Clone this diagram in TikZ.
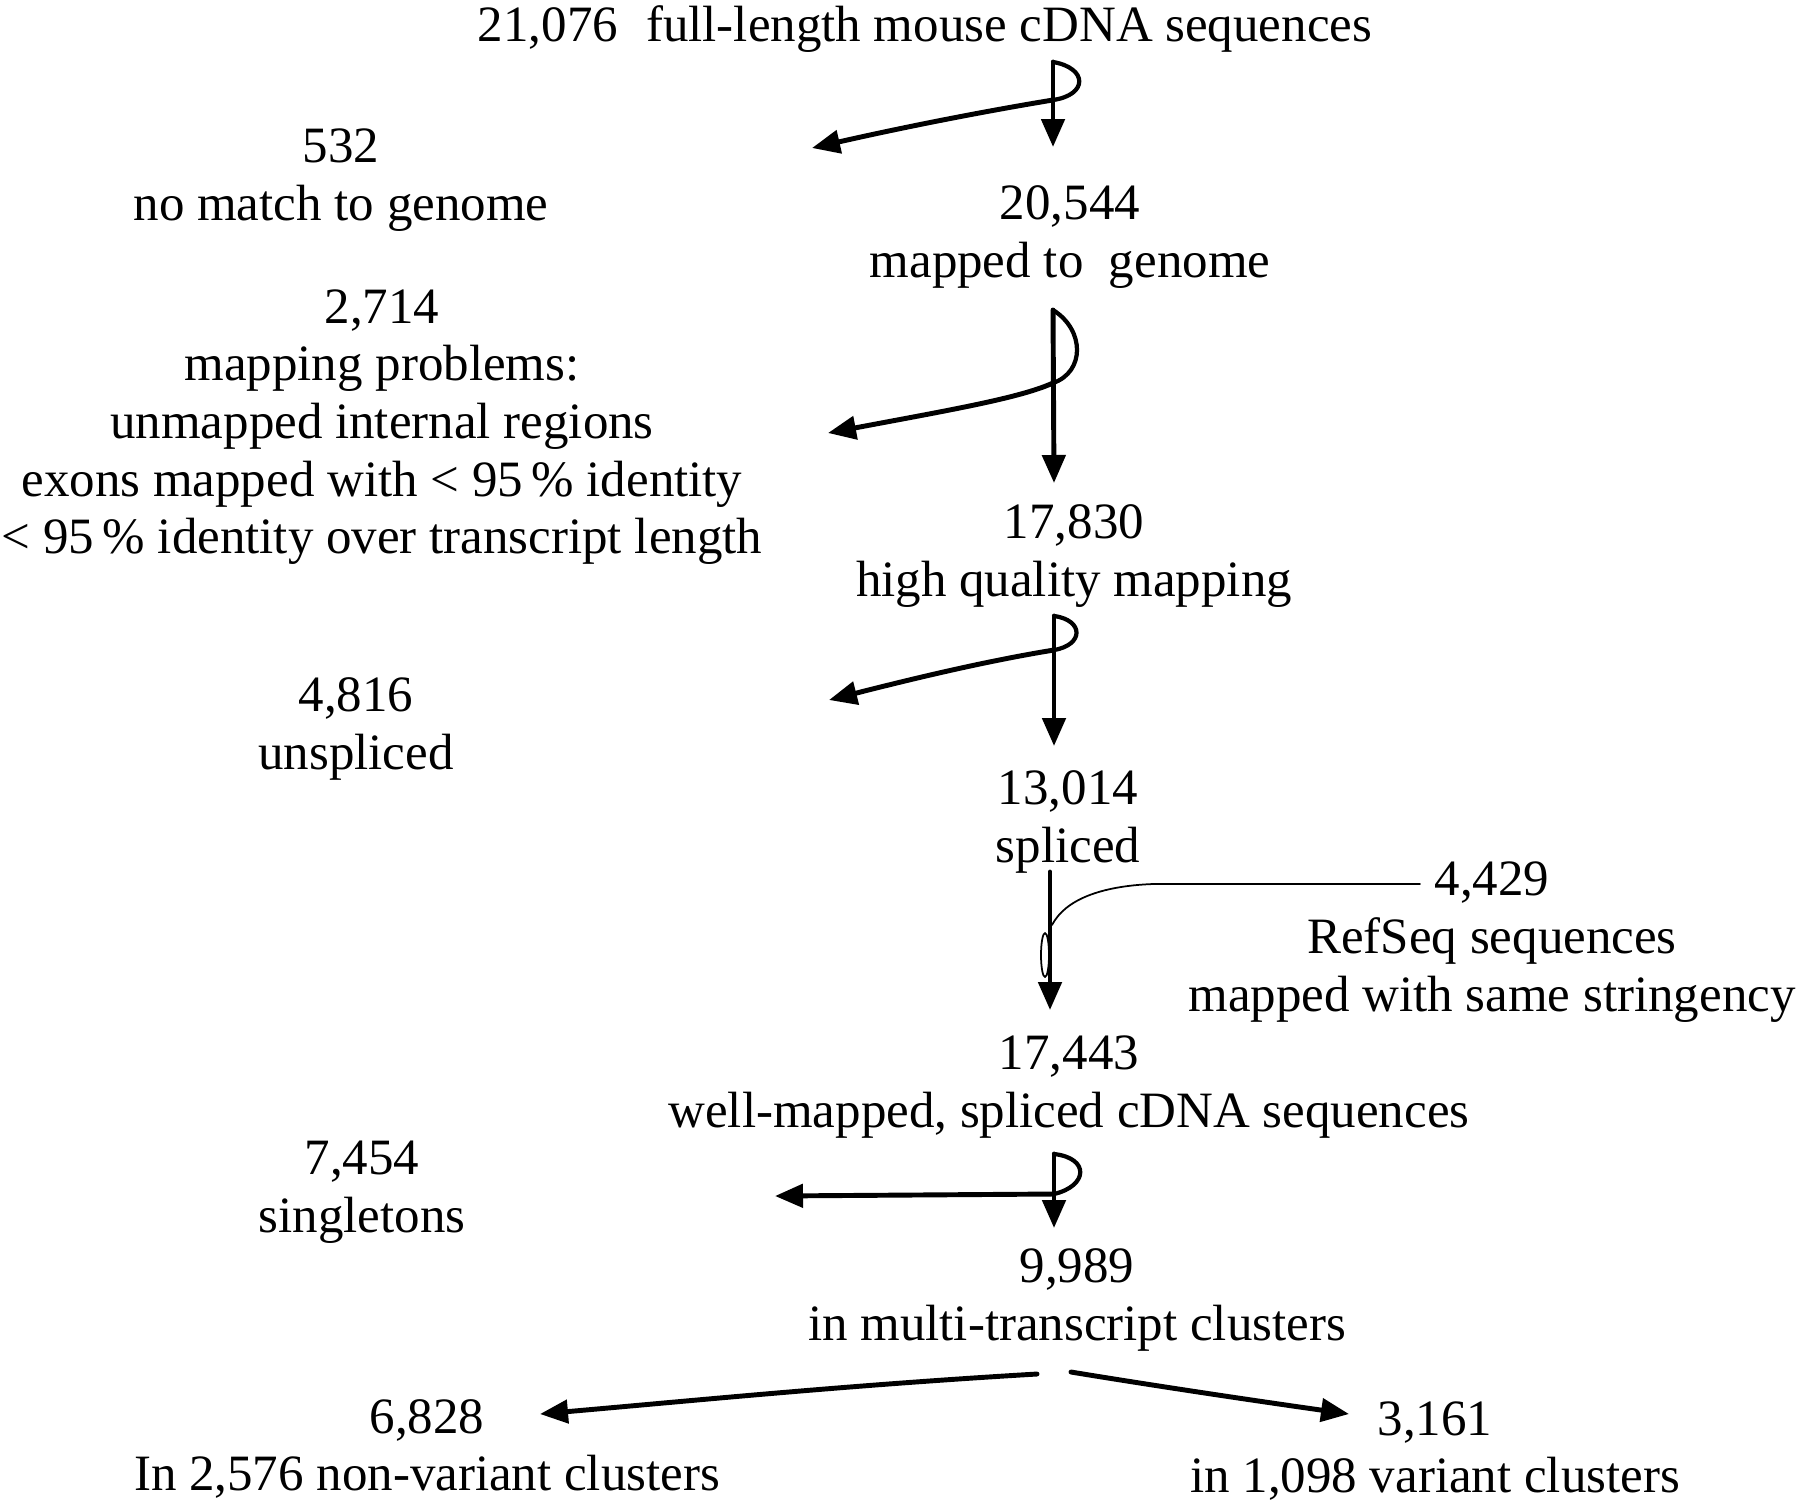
\documentclass[tikz,border=0pt]{standalone}
\usepackage{fontspec}
\setmainfont{Liberation Serif}
\usetikzlibrary{arrows.meta}

\begin{document}
\begin{tikzpicture}[x=0.1mm, y=-0.1mm, line cap=round, line join=round,
  lbl/.style={align=center, inner sep=0pt, font=\fontsize{14.5}{16.4}\selectfont},
  flow/.style={line width=1.4pt, -{Triangle[length=2.8mm,width=2.3mm]}},
  loopline/.style={line width=1.2pt},
  thinline/.style={line width=0.5pt}]
  \useasboundingbox (0,0) rectangle (1800,1508);

  % Texte
  \node[lbl] (top) at (925,29) {21,076\hspace{0.55em}full-length mouse cDNA sequences};
  \node[lbl] (nomatch) at (341,180) {532\\no match to genome};
  \node[lbl] (mapped) at (1070,237) {20,544\\mapped to\hspace{0.5em}genome};
  \node[lbl] (problems) at (382,427) {2,714\\mapping problems:\\unmapped internal regions\\exons mapped with < 95\,\% identity\\< 95\,\% identity over transcript length};
  \node[lbl] (hq) at (1074,556) {17,830\\high quality mapping};
  \node[lbl] (unspliced) at (356,729) {4,816\\unspliced};
  \node[lbl] (spliced) at (1068,822) {13,014\\spliced};
  \node[lbl] (refseq) at (1492,942) {4,429\\RefSeq sequences\\mapped with same stringency};
  \node[lbl] (wellmapped) at (1069,1087) {17,443\\well-mapped, spliced cDNA sequences};
  \node[lbl] (singletons) at (362,1192) {7,454\\singletons};
  \node[lbl] (multi) at (1077,1300) {9,989\\in multi-transcript clusters};
  \node[lbl] (nonvariant) at (427,1449) {6,828\\In 2,576 non-variant clusters};
  \node[lbl] (variant) at (1435,1451) {3,161\\in 1,098 variant clusters};

  % Schritt 1
  \coordinate (s1) at (1053,62);
  \coordinate (j1) at (1053,100);
  \draw[flow] (s1) -- (1053,147);
  \draw[loopline] (s1) .. controls (1088,68) and (1088,95) .. (j1);
  \draw[flow] (j1) .. controls (980,112) and (900,128) .. (812,148);

  % Schritt 2
  \coordinate (s2) at (1053,310);
  \coordinate (j2) at (1053,383);
  \draw[flow] (s2) -- (1054,483);
  \draw[loopline] (s2) .. controls (1085,330) and (1085,372) .. (j2);
  \draw[flow] (j2) .. controls (1020,398) and (950,410) .. (828,433);

  % Schritt 3
  \coordinate (s3) at (1054,616);
  \coordinate (j3) at (1054,650);
  \draw[flow] (s3) -- (1054,746);
  \draw[loopline] (s3) .. controls (1084,620) and (1084,645) .. (j3);
  \draw[flow] (j3) .. controls (980,662) and (900,682) .. (829,700);

  % Schritt 4 (RefSeq)
  \coordinate (s4) at (1050,872);
  \coordinate (j4) at (1052,925);
  \draw[flow] (s4) -- (1050,1010);
  \draw[thinline] (1420,884) -- (1153,884) .. controls (1100,886) and (1065,900) .. (j4);
  \draw[thinline] (1045,955) ellipse (4 and 22);

  % Schritt 5
  \coordinate (s5) at (1054,1154);
  \coordinate (j5) at (1054,1194);
  \draw[flow] (s5) -- (1054,1228);
  \draw[loopline] (s5) .. controls (1090,1158) and (1088,1186) .. (j5);
  \draw[flow] (j5) -- (775,1196);

  % Aufteilung
  \draw[flow] (1037,1374) .. controls (850,1385) and (700,1400) .. (540,1414);
  \draw[flow] (1071,1372) .. controls (1150,1385) and (1250,1400) .. (1349,1414);
\end{tikzpicture}
\end{document}
